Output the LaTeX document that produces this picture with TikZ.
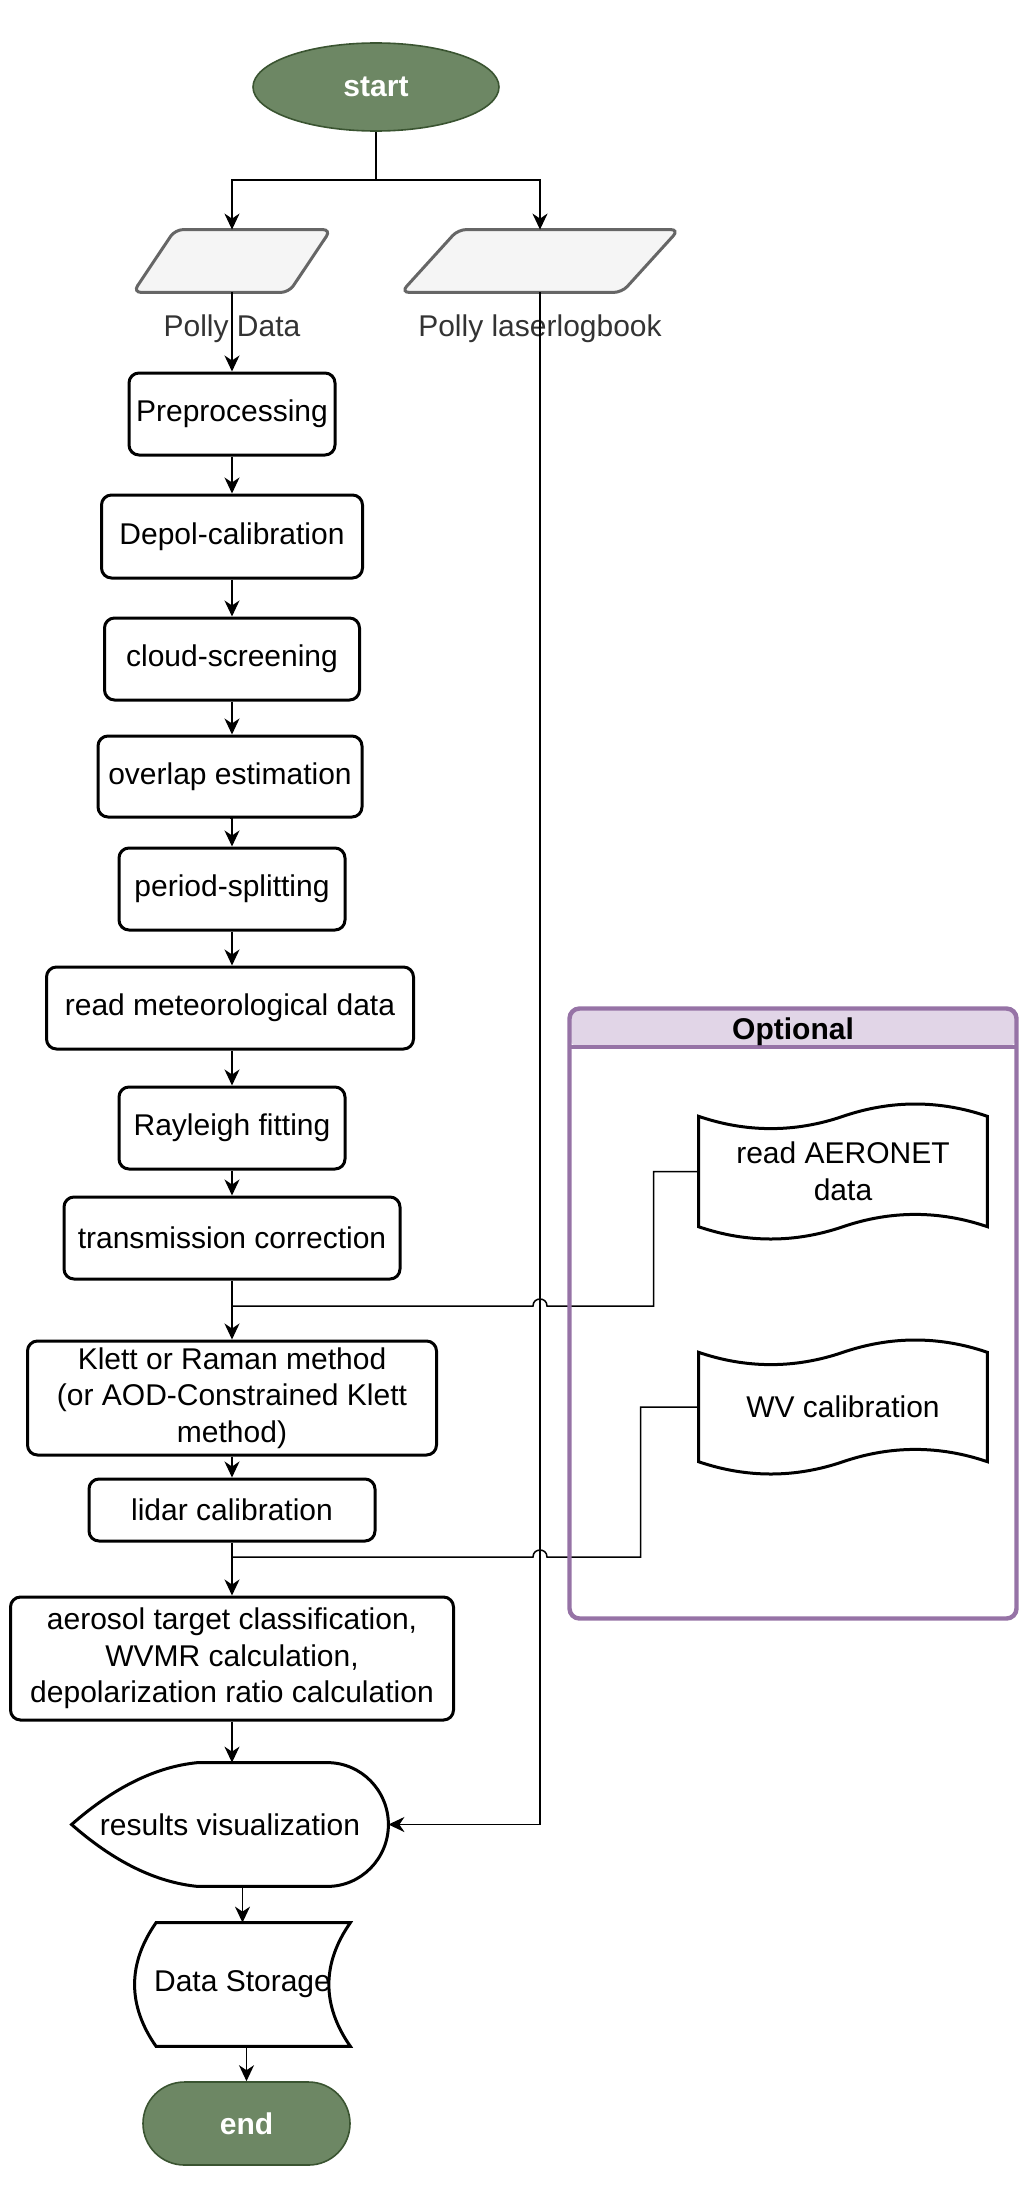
\documentclass[tikz,border=0pt]{standalone}
\usepackage{fontspec}
\setmainfont{Liberation Sans}
\usetikzlibrary{calc,arrows.meta,shapes.geometric}

\definecolor{termfill}{HTML}{6D8764}
\definecolor{termline}{HTML}{3A5431}
\definecolor{iofill}{HTML}{F5F5F5}
\definecolor{ioline}{HTML}{666666}
\definecolor{iotext}{HTML}{333333}
\definecolor{optfill}{HTML}{E1D5E7}
\definecolor{optline}{HTML}{9673A6}

% wavy "tape" outline round a node
\newcommand{\drawtape}[1]{%
  \draw[outline] ($(#1.north west)+(0,13.7)$)
    .. controls +(48,16.4) and +(-48,16.4) .. ($(#1.north)+(0,13.7)$)
    .. controls +(48,-16.4) and +(-48,-16.4) .. ($(#1.north east)+(0,13.7)$)
    -- ($(#1.south east)+(0,-13.7)$)
    .. controls +(-48,-16.4) and +(48,-16.4) .. ($(#1.south)+(0,-13.7)$)
    .. controls +(-48,16.4) and +(48,16.4) .. ($(#1.south west)+(0,-13.7)$)
    -- cycle;}
% slanted input box round a node, #2 = skew
\newcommand{\drawslant}[2]{%
  \draw[ioshape] (#1.south west) -- ($(#1.north west)+(#2,0)$) -- (#1.north east)
    -- ($(#1.south east)+(-#2,0)$) -- cycle;}

\begin{document}
\begin{tikzpicture}[x=0.5pt,y=-0.5pt,
  font=\fontsize{15}{18.25}\selectfont,
  proc/.style={draw, line width=1.5pt, rounded corners=5pt, align=center, inner sep=0pt},
  term/.style={fill=termfill, draw=termline, line width=0.8pt, text=white, inner sep=0pt,
    font=\fontsize{15}{18.25}\selectfont\bfseries},
  io/.style={inner sep=0pt, minimum height=31pt},
  ioshape/.style={fill=iofill, draw=ioline, line width=1.5pt, rounded corners=4pt},
  iolabel/.style={text=iotext, inner sep=0pt, yshift=-11pt},
  freebox/.style={inner sep=0pt, align=center},
  outline/.style={draw, line width=1.5pt},
  optframe/.style={draw=optline, line width=2.2pt, rounded corners=5pt, outer sep=0pt,
    path picture={\fill[optfill] (path picture bounding box.north west)
      rectangle ($(path picture bounding box.north east)+(0,38.5)$);}},
  flow/.style={line width=0.75pt, -{Stealth[length=8pt,width=7.5pt,inset=2.5pt]}},
  wire/.style={line width=0.75pt}]
  \useasboundingbox (0,0) rectangle (1030,2189);

  % start and inputs
  \node[term, ellipse, minimum width=123pt, minimum height=44pt] (start) at (376,87) {start};
  \node[io, minimum width=98.5pt, label={[iolabel]below:Polly Data}] (pdata) at (232,261) {};
  \drawslant{pdata}{42}
  \node[io, minimum width=138.5pt, label={[iolabel]below:Polly laserlogbook}] (plog) at (540,261) {};
  \drawslant{plog}{57}
  \coordinate (split) at (376,180);

  % main column
  \node[proc, minimum width=103pt, minimum height=41pt] (prep) at (232,414) {Preprocessing};
  \node[proc, minimum width=130.5pt, minimum height=41.5pt] (depol) at (232,536.5) {Depol-calibration};
  \node[proc, minimum width=127.5pt, minimum height=41pt] (cloud) at (232,659) {cloud-screening};
  \node[proc, minimum width=132pt, minimum height=40.5pt] (overlap) at (230,776.5) {overlap estimation};
  \node[proc, minimum width=113pt, minimum height=41pt] (period) at (232,889) {period-splitting};
  \node[proc, minimum width=183.5pt, minimum height=41pt] (meteo) at (230,1008) {read meteorological data};
  \node[proc, minimum width=113pt, minimum height=41pt] (rayleigh) at (232,1128) {Rayleigh fitting};
  \node[proc, minimum width=168pt, minimum height=41pt] (trans) at (232,1238) {transmission correction};
  \node[proc, minimum width=204.5pt, minimum height=57pt] (klett) at (232,1398)
    {Klett or Raman method\\(or AOD-Constrained Klett\\method)};
  \node[proc, minimum width=143pt, minimum height=31pt] (lidarcal) at (232,1510) {lidar calibration};
  \node[proc, minimum width=221.5pt, minimum height=61.5pt] (aerosol) at (232,1658.5)
    {aerosol target classification,\\WVMR calculation,\\depolarization ratio calculation};
  \coordinate (jA) at (232,1306);
  \coordinate (jB) at (232,1557);

  % results visualization
  \node[freebox, minimum width=158pt, minimum height=61.5pt] (resvis) at (230,1824.5) {results visualization};
  \draw[outline] (resvis.west)
    .. controls +(42,-36.9) and +(-42,4.1) .. ($(resvis.north west)+(126,0)$)
    -- ($(resvis.north east)+(-61,0)$)
    .. controls +(33.7,0) and +(0,-34) .. (resvis.east)
    .. controls +(0,34) and +(33.7,0) .. ($(resvis.south east)+(-61,0)$)
    -- ($(resvis.south west)+(126,0)$)
    .. controls +(-42,-4.1) and +(42,36.9) .. (resvis.west) -- cycle;

  % data storage
  \node[freebox, minimum width=107.5pt, minimum height=61.5pt] (storage) at (242.5,1984.5) {Data Storage};
  \draw[outline] ($(storage.north west)+(21.5,0)$) -- (storage.north east)
    .. controls +(-28.7,41) and +(-28.7,-41) .. (storage.south east)
    -- ($(storage.south west)+(21.5,0)$)
    .. controls +(-28.7,-41) and +(-28.7,41) .. ($(storage.north west)+(21.5,0)$) -- cycle;

  \node[term, rectangle, rounded corners=20.75pt, minimum width=103.5pt, minimum height=41.5pt]
    (stop) at (246.5,2123.5) {end};

  % optional inputs
  \node[freebox, minimum width=144pt, minimum height=68.5pt] (aeronet) at (843,1171.5) {read AERONET\\data};
  \drawtape{aeronet}
  \node[freebox, minimum width=144pt, minimum height=68pt] (wvcal) at (843,1407) {WV calibration};
  \drawtape{wvcal}

  % connectors
  \draw[flow] (start.south) -- (split) -| (pdata.north);
  \draw[flow] (split) -| (plog.north);
  \draw[flow] (pdata) -- (prep);
  \draw[flow] (prep) -- (depol);
  \draw[flow] (depol) -- (cloud);
  \draw[flow] (cloud.south) -- (cloud.south |- overlap.north);
  \draw[flow] (overlap.south) -- (overlap.south -| period.north) -- (period.north);
  \draw[flow] (period.south) -- (period.south |- meteo.north);
  \draw[flow] (meteo.south -| rayleigh.north) -- (rayleigh.north);
  \draw[flow] (rayleigh) -- (trans);
  \draw[flow] (trans) -- (klett);
  \draw[flow] (klett) -- (lidarcal);
  \draw[flow] (lidarcal) -- (aerosol);
  \draw[flow] (aerosol.south) -- (aerosol.south |- resvis.north);
  \draw[flow] (resvis.south -| storage.north) -- (storage.north);
  \draw[flow] (storage.south -| stop.north) -- (stop.north);
  \draw[flow] (plog.south) |- (resvis.east);
  \draw[wire] (aeronet.west) -- ++(-45,0) |- ($(jA -| plog.south)+(7,0)$)
    .. controls +(0,-9.3) and +(0,-9.3) .. ($(jA -| plog.south)+(-7,0)$) -- (jA);
  \draw[wire] (wvcal.west) -- ++(-58,0) |- ($(jB -| plog.south)+(7,0)$)
    .. controls +(0,-9.3) and +(0,-9.3) .. ($(jB -| plog.south)+(-7,0)$) -- (jB);

  % optional frame
  \node[optframe, minimum width=223.5pt, minimum height=305pt] (optbox) at (793,1313.5) {};
  \draw[optline, line width=2.2pt] ($(optbox.north west)+(0,38.5)$) -- ($(optbox.north east)+(0,38.5)$);
  \node[font=\fontsize{15}{18.25}\selectfont\bfseries] (opttitle) at ($(optbox.north)+(0,23)$) {Optional};
\end{tikzpicture}
\end{document}
